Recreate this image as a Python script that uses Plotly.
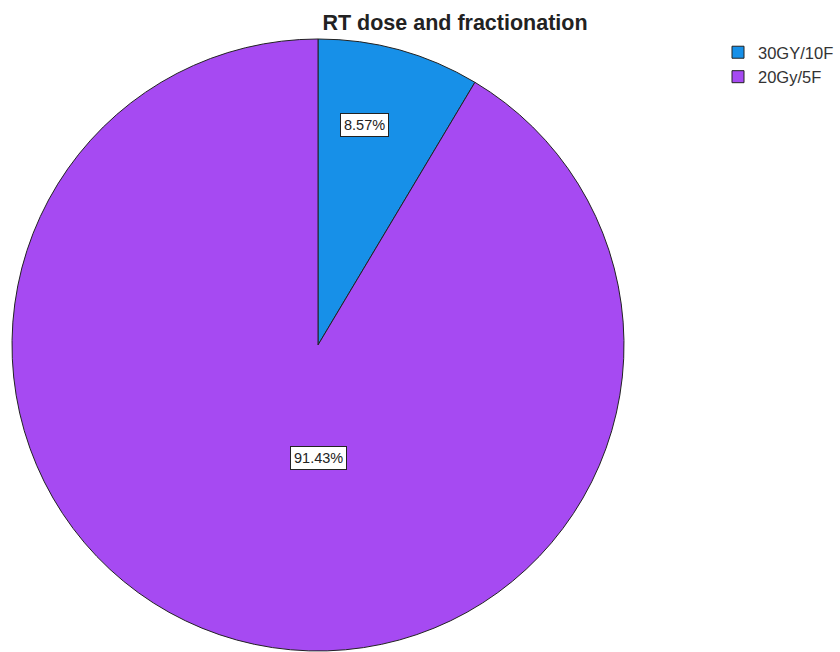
import math
import plotly.graph_objects as go

labels = ["30GY/10F", "20Gy/5F"]
values = [8.57, 91.43]
colors = ["#1790e8", "#a64af2"]
label_radius = [0.733, 0.369]
label_angle_frac = [0.384, 0.452]

W, H = 840, 652
cx_px, cy_px, r_px = 318, 345, 306
dom_x = [(cx_px - r_px) / W, (cx_px + r_px) / W]
dom_y = [1 - (cy_px + r_px) / H, 1 - (cy_px - r_px) / H]

fig = go.Figure(go.Pie(
    labels=labels, values=values, sort=False, direction="clockwise", rotation=0,
    marker=dict(colors=colors, line=dict(color="#222222", width=1)),
    textinfo="none", hoverinfo="label+percent",
    domain=dict(x=dom_x, y=dom_y),
))

total = sum(values)
cum = 0
for v, rf, af in zip(values, label_radius, label_angle_frac):
    ang = (cum + v * af) / total * 2 * math.pi
    cum += v
    px = cx_px + rf * r_px * math.sin(ang)
    py = cy_px - rf * r_px * math.cos(ang)
    fig.add_annotation(
        x=px / W, y=1 - py / H, xref="paper", yref="paper",
        xanchor="center", yanchor="middle",
        text=f"{v / total * 100:.2f}%", showarrow=False,
        font=dict(family="Liberation Sans, Arial", size=14.5, color="#222222"),
        bgcolor="white", bordercolor="#222222", borderwidth=1, borderpad=3,
    )

fig.update_layout(
    width=W, height=H,
    margin=dict(l=0, r=0, t=0, b=0),
    paper_bgcolor="white", plot_bgcolor="white",
    title=dict(text="<b>RT dose and fractionation</b>", x=455 / W, xanchor="center",
               y=1 - 22.5 / H, yanchor="middle",
               font=dict(family="Liberation Sans, Arial", size=21.5, color="#222222")),
    legend=dict(x=718 / W, y=1 - 35 / H, xanchor="left", yanchor="top",
                font=dict(family="Liberation Sans, Arial", size=16.5, color="#333333"),
                itemwidth=30, tracegroupgap=0),
    showlegend=True,
)

fig.write_html("out.html", config={"displayModeBar": False},
               post_script="document.body.style.margin='0';document.body.style.overflow='hidden';")
